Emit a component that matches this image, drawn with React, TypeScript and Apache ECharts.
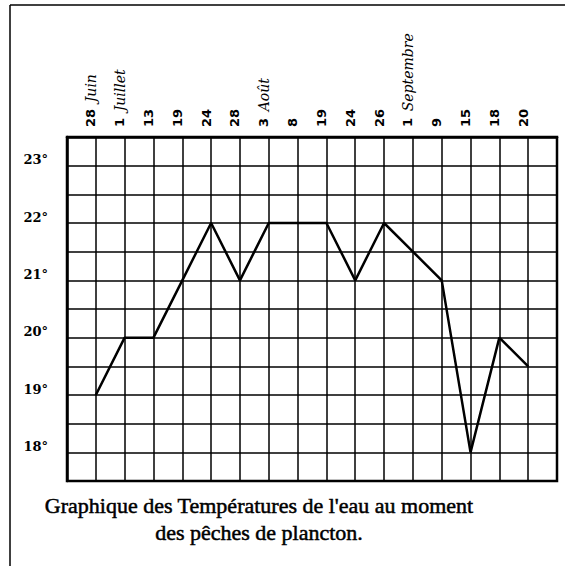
import React, { useEffect, useRef } from "react";
import * as echarts from "echarts";

const days = ["28", "1", "13", "19", "24", "28", "3", "8", "19", "24", "26", "1", "9", "15", "18", "20"];
const months = ["Juin", "Juillet", "", "", "", "", "Août", "", "", "", "", "Septembre", "", "", "", ""];
const temps = [19, 20, 20, 21, 22, 21, 22, 22, 22, 21, 22, 21.5, 21, 18, 20, 19.5];
const captionLines = ["Graphique des Températures de l'eau au moment", "des pêches de plancton."];

export default function App() {
  const ref = useRef<HTMLDivElement>(null);
  useEffect(() => {
    if (!ref.current) return;
    const chart = echarts.init(ref.current, null, { renderer: "svg" });
    const captionStyle = {
      fontFamily: "Liberation Serif",
      fontSize: 22,
      fill: "#000",
      stroke: "#000",
      lineWidth: 0.5,
      align: "center",
      verticalAlign: "middle",
    };
    const option: any = {
      animation: false,
      backgroundColor: "#fff",
      grid: { left: 67, top: 137, right: 8, bottom: 85, show: true, borderColor: "#000", borderWidth: 2.5 },
      xAxis: {
        type: "value",
        position: "top",
        min: -1,
        max: 16,
        interval: 1,
        axisLine: { show: true, onZero: false, lineStyle: { color: "#000", width: 2.5 } },
        axisTick: { show: false },
        splitLine: { show: true, lineStyle: { color: "#000", width: 1.5 } },
        axisLabel: {
          rotate: -90,
          margin: 10,
          color: "#000",
          verticalAlign: "bottom",
          lineHeight: 10,
          formatter: (v: number) => {
            if (v < 0 || v >= days.length || !Number.isInteger(v)) return "";
            const m = months[v];
            return m ? `{n|${days[v]}}  {m|${m}}` : `{n|${days[v]}}`;
          },
          rich: {
            n: { fontFamily: "DejaVu Sans", fontWeight: "bold", fontSize: 13, color: "#000", lineHeight: 10 },
            m: { fontFamily: "DejaVu Serif", fontStyle: "italic", fontSize: 14, color: "#000", lineHeight: 10 },
          },
        },
      },
      yAxis: {
        type: "value",
        min: 17.5,
        max: 23.5,
        interval: 0.5,
        axisLine: { show: true, onZero: false, lineStyle: { color: "#000", width: 2.5 } },
        axisTick: { show: false },
        splitLine: { show: true, lineStyle: { color: "#000", width: 1.5 } },
        axisLabel: {
          margin: 19,
          color: "#000",
          fontFamily: "DejaVu Serif",
          fontWeight: "bold",
          fontSize: 13,
          verticalAlign: "bottom",
          lineHeight: 12,
          formatter: (v: number) => (Number.isInteger(v) && v >= 18 && v <= 23 ? `${v}°` : ""),
        },
      },
      series: [
        {
          type: "line",
          data: temps.map((t, i) => [i, t]),
          symbol: "none",
          lineStyle: { color: "#000", width: 2.5 },
        },
      ],
      graphic: [
        { type: "line", shape: { x1: 10, y1: 5, x2: 565, y2: 5 }, style: { stroke: "#000", lineWidth: 1.5 } },
        { type: "line", shape: { x1: 10, y1: 5, x2: 10, y2: 566 }, style: { stroke: "#000", lineWidth: 1.5 } },
        { type: "text", x: 259, y: 505, style: { ...captionStyle, text: captionLines[0] } },
        { type: "text", x: 259, y: 532, style: { ...captionStyle, text: captionLines[1] } },
      ],
    };
    chart.setOption(option);
    return () => chart.dispose();
  }, []);
  return <div ref={ref} style={{ position: "fixed", left: 0, top: 0, width: 565, height: 566 }} />;
}
